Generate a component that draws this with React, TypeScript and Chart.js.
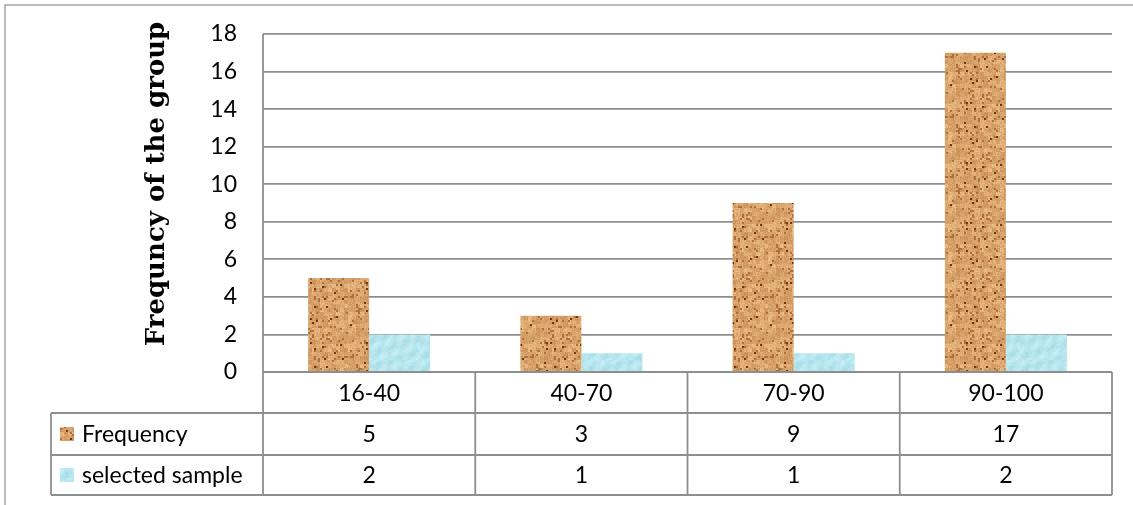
import React, { useEffect, useRef } from "react";
import { Chart, registerables } from "chart.js";

Chart.register(...registerables);

const categories = ["16-40", "40-70", "70-90", "90-100"];
const frequency = [5, 3, 9, 17];
const selectedSample = [2, 1, 1, 2];
const seriesNames = ["Frequency", "selected sample"];
const yMin = 0;
const yMax = 18;
const yStep = 2;
const axisTitle = "Frequncy of the group";

const W = 1133;
const H = 505;
const LINE = "#8e8e8e";
const TICK_FONT = "Lato, 'Open Sans', sans-serif";

function hash(x: number, y: number, s: number) {
  let h = (x * 374761393 + y * 668265263 + s * 982451653) | 0;
  h = Math.imul(h ^ (h >>> 13), 1274126177);
  h = h ^ (h >>> 16);
  return (h >>> 0) / 4294967295;
}

function makeBrown(): CanvasPattern | string {
  const S = 60;
  const c = document.createElement("canvas");
  c.width = S;
  c.height = S;
  const ctx = c.getContext("2d");
  if (!ctx) return "#c8935a";
  const img = ctx.createImageData(S, S);
  for (let y = 0; y < S; y++) {
    for (let x = 0; x < S; x++) {
      const bx = Math.floor(x / 2);
      const by = Math.floor(y / 2);
      const r = hash(bx, by, 1);
      const t = 0.55 * hash(bx >> 1, by >> 1, 2) + 0.45 * hash(x, y, 3);
      let col: number[];
      if (r < 0.025) col = [118, 52, 22];
      else if (r < 0.12) col = [176, 112, 62];
      else {
        const a = [196, 136, 80];
        const b = [240, 196, 140];
        col = a.map((v, i) => Math.round(v + (b[i] - v) * t));
      }
      const i4 = (y * S + x) * 4;
      img.data[i4] = col[0];
      img.data[i4 + 1] = col[1];
      img.data[i4 + 2] = col[2];
      img.data[i4 + 3] = 255;
    }
  }
  ctx.putImageData(img, 0, 0);
  return ctx.createPattern(c, "repeat") || "#c8935a";
}

function makeCyan(): CanvasPattern | string {
  const c = document.createElement("canvas");
  c.width = 60;
  c.height = 40;
  const ctx = c.getContext("2d");
  if (!ctx) return "#a8e0ea";
  const img = ctx.createImageData(60, 40);
  for (let y = 0; y < 40; y++) {
    for (let x = 0; x < 60; x++) {
      const w = Math.sin((x + y) * 0.35) * Math.cos((x - y * 0.6) * 0.2);
      const n = hash(x >> 1, y >> 1, 7) * 0.25;
      const t = Math.max(0, Math.min(1, 0.5 + w * 0.3 + n - 0.12));
      const a = [160, 217, 229];
      const b = [205, 242, 248];
      const i4 = (y * 60 + x) * 4;
      img.data[i4] = Math.round(a[0] + (b[0] - a[0]) * t);
      img.data[i4 + 1] = Math.round(a[1] + (b[1] - a[1]) * t);
      img.data[i4 + 2] = Math.round(a[2] + (b[2] - a[2]) * t);
      img.data[i4 + 3] = 255;
    }
  }
  ctx.putImageData(img, 0, 0);
  return ctx.createPattern(c, "repeat") || "#a8e0ea";
}

export default function App() {
  const ref = useRef<HTMLCanvasElement | null>(null);

  useEffect(() => {
    if (!ref.current) return;
    const brown = makeBrown();
    const cyan = makeCyan();
    const fills = [brown, cyan];
    const series = [frequency, selectedSample];

    const tablePlugin = {
      id: "dataTable",
      afterDraw(chart: any) {
        const ctx = chart.ctx as CanvasRenderingContext2D;
        const area = chart.chartArea;
        const left = area.left;
        const right = area.right;
        const n = categories.length;
        const cw = (right - left) / n;
        const rowTops = [area.bottom, area.bottom + 41, area.bottom + 83, area.bottom + 123];
        const labelLeft = 51;

        ctx.save();
        ctx.strokeStyle = "#a6a6a6";
        ctx.lineWidth = 1.5;
        ctx.beginPath();
        ctx.moveTo(5, H);
        ctx.lineTo(5, 5);
        ctx.lineTo(W, 5);
        ctx.stroke();

        ctx.strokeStyle = LINE;
        ctx.lineWidth = 1.8;
        ctx.beginPath();
        ctx.moveTo(left, area.top);
        ctx.lineTo(left, rowTops[3]);
        for (let i = 1; i <= n; i++) {
          const x = left + cw * i;
          ctx.moveTo(x, rowTops[0]);
          ctx.lineTo(x, rowTops[3]);
        }
        ctx.moveTo(left, rowTops[0]);
        ctx.lineTo(right, rowTops[0]);
        for (let r = 1; r <= 3; r++) {
          ctx.moveTo(labelLeft, rowTops[r]);
          ctx.lineTo(right, rowTops[r]);
        }
        ctx.moveTo(labelLeft, rowTops[1]);
        ctx.lineTo(labelLeft, rowTops[3]);
        ctx.stroke();

        ctx.fillStyle = "#000";
        ctx.font = `23px ${TICK_FONT}`;
        ctx.textBaseline = "middle";
        ctx.textAlign = "center";
        for (let i = 0; i < n; i++) {
          const cx = left + cw * (i + 0.5);
          ctx.fillText(categories[i], cx, (rowTops[0] + rowTops[1]) / 2 + 1);
          for (let s = 0; s < series.length; s++) {
            ctx.fillText(String(series[s][i]), cx, (rowTops[s + 1] + rowTops[s + 2]) / 2 + 1);
          }
        }
        ctx.textAlign = "left";
        for (let s = 0; s < seriesNames.length; s++) {
          const cy = (rowTops[s + 1] + rowTops[s + 2]) / 2;
          ctx.fillStyle = fills[s] as any;
          ctx.fillRect(60, cy - 7, 14, 14);
          ctx.fillStyle = "#000";
          ctx.fillText(seriesNames[s], 82, cy + 1);
        }

        ctx.save();
        ctx.translate(157, 184);
        ctx.rotate(-Math.PI / 2);
        ctx.font = "bold 26px 'DejaVu Serif', serif";
        ctx.textAlign = "center";
        ctx.textBaseline = "middle";
        ctx.fillStyle = "#000";
        ctx.fillText(axisTitle, 0, 0);
        ctx.restore();

        ctx.restore();
      },
    };

    const chart = new Chart(ref.current, {
      type: "bar",
      data: {
        labels: categories,
        datasets: [
          {
            label: seriesNames[0],
            data: frequency,
            backgroundColor: brown as any,
            borderWidth: 0,
            barPercentage: 1,
            categoryPercentage: 0.575,
          },
          {
            label: seriesNames[1],
            data: selectedSample,
            backgroundColor: cyan as any,
            borderWidth: 0,
            barPercentage: 1,
            categoryPercentage: 0.575,
          },
        ],
      },
      options: {
        responsive: false,
        animation: false,
        layout: { padding: { top: 34, right: 21, bottom: 133, left: 0 } },
        plugins: {
          legend: { display: false },
          tooltip: { enabled: false },
          title: { display: false },
        },
        scales: {
          x: { display: false },
          y: {
            min: yMin,
            max: yMax,
            afterFit: (scale: any) => {
              scale.width = 263;
              scale.paddingTop = 0;
              scale.paddingBottom = 0;
            },
            ticks: {
              stepSize: yStep,
              color: "#000",
              padding: 26,
              font: { family: TICK_FONT, size: 23 },
            },
            grid: { color: LINE, lineWidth: 1.8, drawTicks: false },
            border: { display: false },
          },
        },
      },
      plugins: [tablePlugin],
    });
    return () => chart.destroy();
  }, []);

  return (
    <div style={{ position: "absolute", left: 0, top: 0, width: W, height: H, background: "#fff" }}>
      <canvas ref={ref} width={W} height={H} style={{ display: "block" }} />
    </div>
  );
}
